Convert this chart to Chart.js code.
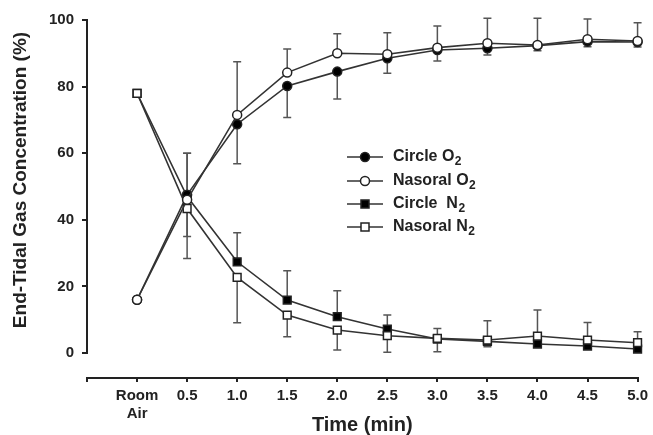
<!DOCTYPE html>
<html>
<head>
<meta charset="utf-8">
<script src="https://cdn.jsdelivr.net/npm/chart.js@4"></script>
<style>
html,body{margin:0;padding:0;background:#fff;}
#wrap{width:653px;height:435px;position:relative;}
</style>
</head>
<body>
<div id="wrap"><canvas id="c" width="653" height="435"></canvas></div>
<script>
// ---- data (index 0 = Room Air, 1..10 = 0.5 .. 5.0 min) ----
const xValues = [0, 1, 2, 3, 4, 5, 6, 7, 8, 9, 10];
const xTickLabels = [['Room', 'Air'], '0.5', '1.0', '1.5', '2.0', '2.5', '3.0', '3.5', '4.0', '4.5', '5.0'];
const yTickValues = [0, 20, 40, 60, 80, 100];

const circleO2   = [16, 47.5, 68.7, 80.2, 84.5, 88.5, 91.0, 91.5, 92.3, 93.5, 93.4];
const nasoralO2  = [16, 46.0, 71.5, 84.2, 90.0, 89.7, 91.7, 93.0, 92.5, 94.2, 93.7];
const circleN2   = [78, 47.0, 27.4, 15.9, 10.9, 7.2, 4.2, 3.5, 2.7, 2.1, 1.2];
const nasoralN2  = [78, 43.4, 22.7, 11.4, 6.9, 5.2, 4.4, 3.9, 5.1, 3.9, 3.1];

// one-sided error bars (SD)
const nasoralO2Up  = [0, 14, 16, 7.1, 5.9, 6.5, 6.5, 7.5, 8.0, 6.1, 5.5];
const circleO2Down = [0, 12.5, 11.9, 9.5, 8.2, 4.5, 3.3, 2.0, 1.5, 1.5, 1.5];
const circleN2Up   = [0, 13, 8.7, 8.8, 7.8, 4.2, 3.2, 6.2, 10.2, 7.1, 5.2];
const nasoralN2Down= [0, 15, 13.6, 6.5, 6.0, 5.0, 4.0, 2.0, 1.5, 1.5, 1.5];

const seriesLabels = ['Circle O\u2082', 'Nasoral O\u2082', 'Circle  N\u2082', 'Nasoral N\u2082'];

const FONT = '"Liberation Sans", Arial, Helvetica, sans-serif';
const INK = '#222';

function pts(arr) { return xValues.map((x, i) => ({ x: x, y: arr[i] })); }

const errorBars = {
  id: 'errorBars',
  beforeDatasetsDraw(chart) {
    const ctx = chart.ctx, xs = chart.scales.x, ys = chart.scales.y;
    ctx.save();
    ctx.strokeStyle = '#555';
    ctx.lineWidth = 1.5;
    chart.data.datasets.forEach(ds => {
      const err = ds.errUp || ds.errDown;
      if (!err) return;
      const sign = ds.errUp ? 1 : -1;
      ds.data.forEach((p, i) => {
        if (!err[i]) return;
        const px = xs.getPixelForValue(p.x);
        const py0 = ys.getPixelForValue(p.y);
        const py1 = ys.getPixelForValue(p.y + sign * err[i]);
        ctx.beginPath();
        ctx.moveTo(px, py0); ctx.lineTo(px, py1);
        ctx.moveTo(px - 4, py1); ctx.lineTo(px + 4, py1);
        ctx.stroke();
      });
    });
    ctx.restore();
  }
};

const axisDecor = {
  id: 'axisDecor',
  afterDraw(chart) {
    const ctx = chart.ctx, ys = chart.scales.y, ca = chart.chartArea;
    ctx.save();
    // y axis line from 0 to 100
    ctx.strokeStyle = INK;
    ctx.lineWidth = 2;
    ctx.beginPath();
    ctx.moveTo(ca.left, ys.getPixelForValue(0) + 1);
    ctx.lineTo(ca.left, ys.getPixelForValue(100) - 1);
    ctx.stroke();
    // y title
    ctx.fillStyle = INK;
    ctx.font = 'bold 19px ' + FONT;
    ctx.textAlign = 'center';
    ctx.textBaseline = 'middle';
    ctx.translate(21, 180);
    ctx.rotate(-Math.PI / 2);
    ctx.fillText('End-Tidal Gas Concentration (%)', 0, 0);
    ctx.restore();

    // legend
    ctx.save();
    const rows = [157, 181, 204, 227];
    chart.data.datasets.forEach((ds, i) => {
      const y = rows[i];
      ctx.strokeStyle = '#333';
      ctx.lineWidth = 1.6;
      ctx.beginPath();
      ctx.moveTo(347, y); ctx.lineTo(383, y);
      ctx.stroke();
      ctx.fillStyle = ds.pointBackgroundColor;
      ctx.lineWidth = 1.5;
      ctx.strokeStyle = '#222';
      if (ds.pointStyle === 'rect') {
        ctx.fillRect(361, y - 4, 8, 8);
        ctx.strokeRect(361, y - 4, 8, 8);
      } else {
        ctx.beginPath();
        ctx.arc(365, y, 4.5, 0, Math.PI * 2);
        ctx.fill(); ctx.stroke();
      }
      const label = ds.label;
      const base = label.replace('\u2082', '');
      ctx.fillStyle = INK;
      ctx.font = 'bold 16px ' + FONT;
      ctx.textAlign = 'left';
      ctx.textBaseline = 'middle';
      ctx.fillText(base, 393, y);
      const w = ctx.measureText(base).width;
      ctx.font = 'bold 12px ' + FONT;
      ctx.fillText('2', 393 + w + 0.5, y + 5);
    });
    ctx.restore();
  }
};

new Chart(document.getElementById('c'), {
  type: 'line',
  data: {
    datasets: [
      { label: seriesLabels[0], data: pts(circleO2), errDown: circleO2Down, pointStyle: 'circle',
        pointBackgroundColor: '#000', pointRadius: 4.5, order: 1 },
      { label: seriesLabels[1], data: pts(nasoralO2), errUp: nasoralO2Up, pointStyle: 'circle',
        pointBackgroundColor: '#fff', pointRadius: 4.5, order: 0 },
      { label: seriesLabels[2], data: pts(circleN2), errUp: circleN2Up, pointStyle: 'rect',
        pointBackgroundColor: '#000', pointRadius: 5.5, order: 1 },
      { label: seriesLabels[3], data: pts(nasoralN2), errDown: nasoralN2Down, pointStyle: 'rect',
        pointBackgroundColor: '#fff', pointRadius: 5.5, order: 0 }
    ].map(d => Object.assign({
      borderColor: '#333', borderWidth: 1.6, pointBorderColor: '#222', pointBorderWidth: 1.5,
      tension: 0, clip: false, pointHoverRadius: 0
    }, d))
  },
  options: {
    responsive: false,
    animation: false,
    events: [],
    layout: { padding: { left: 0, right: 14, top: 20, bottom: 0 } },
    plugins: { legend: { display: false }, tooltip: { enabled: false } },
    scales: {
      x: {
        type: 'linear', min: -1, max: 10,
        afterBuildTicks: s => { s.ticks = [-1].concat(xValues).map(v => ({ value: v })); },
        afterFit: s => { s.height = 57; },
        ticks: {
          autoSkip: false, maxRotation: 0, padding: 5, color: INK,
          font: { family: FONT, size: 15, weight: 'bold' },
          callback: v => (v < 0 ? '' : xTickLabels[v])
        },
        grid: { drawOnChartArea: false, tickLength: 4, color: INK, lineWidth: 2 },
        border: { color: INK, width: 2 },
        title: { display: true, text: 'Time (min)', color: INK, padding: 0,
          font: { family: FONT, size: 20, weight: 'bold', lineHeight: 1.0 } }
      },
      y: {
        min: -7.5, max: 100,
        afterBuildTicks: s => { s.ticks = yTickValues.map(v => ({ value: v })); },
        afterFit: s => { s.width = 87; },
        ticks: { padding: 8, color: INK, font: { family: FONT, size: 15, weight: 'bold' } },
        grid: { drawOnChartArea: false, tickLength: 5, color: INK, lineWidth: 2 },
        border: { display: false }
      }
    }
  },
  plugins: [errorBars, axisDecor]
});
</script>
</body>
</html>
